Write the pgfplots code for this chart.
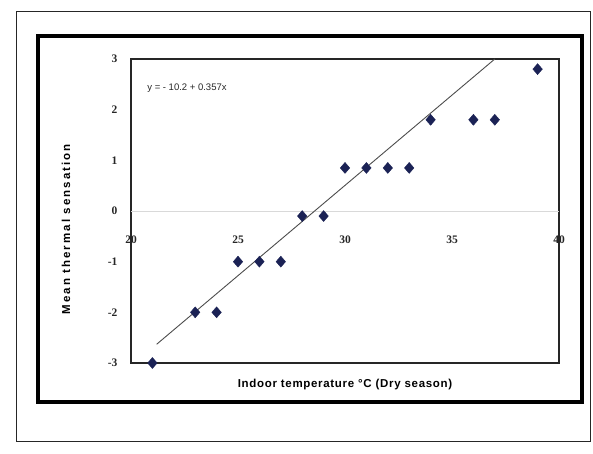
\documentclass[border=0pt]{standalone}
\usepackage{pgfplots}
\pgfplotsset{compat=1.18}
\usepackage{fontspec}
\setmainfont{Liberation Sans}
\newfontfamily\tickfont{Liberation Serif}
\newfontfamily\ylabfont[LetterSpace=18]{Liberation Sans}
\newfontfamily\xlabfont[LetterSpace=6]{Liberation Sans}
\definecolor{markblue}{HTML}{1B2255}
\begin{document}
\begin{tikzpicture}
\useasboundingbox (0,0) rectangle (593pt,454pt);
\draw[line width=1pt, black!85] (16pt,12pt) rectangle (590pt,442pt);
\draw[line width=3.5pt, black] (38pt,52pt) rectangle (582pt,418pt);
\begin{axis}[
  at={(131pt,91pt)}, anchor=south west,
  scale only axis, width=428pt, height=304pt,
  xmin=20, xmax=40, ymin=-3, ymax=3,
  xtick={20,25,30,35,40}, ytick={-3,-2,-1,0,1,2,3},
  major tick length=0pt,
  axis line style={line width=1.2pt, black!85},
  /pgf/number format/assume math mode=true,
  ticklabel style={font=\tickfont\fontsize{11.5}{13}\selectfont\bfseries, black!85},
  xticklabel style={yshift=131pt},
  yticklabel style={xshift=-10pt},
  extra y ticks={0}, extra y tick labels={},
  extra y tick style={grid=major, major grid style={gray!30, line width=0.8pt}},
  xlabel={Indoor temperature \textdegree C (Dry season)},
  ylabel={Mean thermal sensation},
  xlabel style={at={(axis description cs:0.5,0)}, anchor=north, yshift=-13pt, font=\xlabfont\fontsize{11.5}{13}\selectfont\bfseries},
  ylabel style={at={(axis description cs:-0.152,0.44)}, anchor=center, font=\ylabfont\fontsize{11.5}{13}\selectfont\bfseries},
  clip=false,
]
\addplot[only marks, mark=diamond*, mark size=5.5pt, color=markblue, mark options={scale=1, xscale=1.15}] coordinates {
(21,-3) (23,-2) (24,-2) (25,-1) (26,-1) (27,-1) (28,-0.1) (29,-0.1)
(30,0.85) (31,0.85) (32,0.85) (33,0.85) (34,1.8) (36,1.8) (37,1.8) (39,2.8)
};
\addplot[black!70, line width=0.9pt] coordinates {(21.2,-2.63) (37,3.0)};
\node[anchor=west, font=\fontsize{9.5}{11}\selectfont, black!85] at (axis cs:20.6,2.42) {y = - 10.2 + 0.357x};
\end{axis}
\end{tikzpicture}
\end{document}
